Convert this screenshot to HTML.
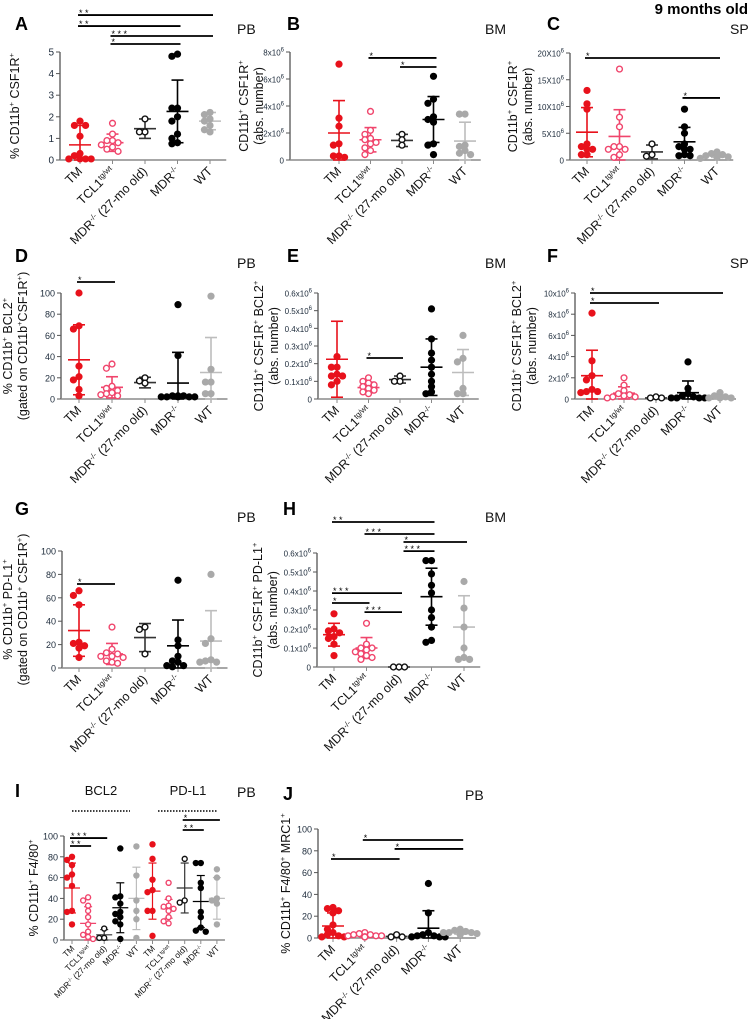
<!DOCTYPE html>
<html><head><meta charset="utf-8"><style>
html,body{margin:0;padding:0;background:#fff}
svg{display:block;font-family:"Liberation Sans",sans-serif}
</style></head><body>
<svg id="fig" width="749" height="1019" viewBox="0 0 749 1019" xmlns="http://www.w3.org/2000/svg"></svg>
<script>
// ---------- data ----------
const groupNames = ['TM','TCL1','MDR27','MDR','WT'];
const A_vals=[[1.8,1.6,1.6,1.1,0.3,0.2,0.05,0.05,0.05,0.05],[1.7,1.2,0.9,0.9,0.8,0.7,0.6,0.5,0.4],[1.9,1.3,1.3],[4.9,4.8,2.4,2.4,2.0,1.8,1.2,1.0,0.8,0.75],[2.2,2.1,1.9,1.8,1.6,1.4,1.3]];
const A_mean=[0.7,0.8,1.45,2.25,1.8];
const A_sd=[0.9,0.4,0.45,1.45,0.4];
const A_ticks=[0,1,2,3,4,5];
const A_sig=[[0,4,6.71,'* *'],[0,3,6.2,'* *'],[1,4,5.74,'* * *'],[1,3,5.37,'*']];
const B_vals=[[7.1,3.1,2.5,1.2,1.1,0.3,0.3,0.2],[3.6,2.2,1.9,1.6,1.5,1.3,1.2,0.9,0.7,0.4],[1.9,1.5,1.1],[6.2,4.5,4.2,3.2,3.0,2.8,1.2,1.1,0.4],[3.4,3.4,1.1,1.0,0.7,0.5,0.4]];
const B_mean=[2.0,1.5,1.45,3.0,1.4];
const B_sd=[2.4,0.9,0.45,1.7,1.4];
const B_ticks=[0,2,4,6,8];
const B_sig=[[1,3,7.56,'*'],[2,3,6.89,'*']];
const C_vals=[[13,10.5,9.5,3,2.5,2,2,1,1],[17,8,6.2,2.5,2.5,2,2,1,0.5],[3,1,0.7],[9.5,6.2,5,3,2.5,2,2,1,0.8,0.8],[1.5,1.2,1,0.8,0.6,0.5,0.3]];
const C_mean=[5.2,4.4,1.5,3.4,0.9];
const C_sd=[4.6,5.0,1.3,2.7,0.4];
const C_ticks=[0,5,10,15,20];
const C_sig=[[0,4,19.07,'*'],[3,4,11.6,'*']];
const D_vals=[[100,69,66,31,21,18,9,3],[33,29,12,10,8,6,5,4,3],[20,17,15],[89,41,3,3,3,2,2,2,2,2],[97,28,16,16,5,5]];
const D_mean=[37,11,15.5,15,25];
const D_sd=[33,10,5,29,33];
const D_ticks=[0,20,40,60,80,100];
const D_sig=[[0,1,110.4,'*']];
const E_vals=[[0.24,0.18,0.18,0.14,0.13,0.13,0.1,0.08],[0.12,0.1,0.09,0.08,0.07,0.06,0.05,0.04,0.03],[0.13,0.1,0.1],[0.51,0.34,0.26,0.22,0.18,0.14,0.1,0.07,0.04,0.03],[0.36,0.23,0.21,0.06,0.03,0.03]];
const E_mean=[0.225,0.065,0.11,0.18,0.15];
const E_sd=[0.215,0.03,0.02,0.16,0.13];
const E_ticks=[0,0.1,0.2,0.3,0.4,0.5,0.6];
const E_sig=[[1,2,0.232,'*']];
const F_vals=[[8.1,3.6,2.2,1.8,0.9,0.7,0.7,0.6],[2.0,1.3,0.8,0.5,0.4,0.3,0.2,0.2,0.1],[0.2,0.1,0.1],[3.5,1.0,0.5,0.3,0.2,0.1,0.1,0.1,0.1],[0.6,0.3,0.2,0.1,0.1,0.1]];
const F_mean=[2.2,0.55,0.1,0.6,0.2];
const F_sd=[2.4,0.6,0.05,1.1,0.15];
const F_ticks=[0,2,4,6,8,10];
const F_sig=[[0,4,10.0,'*'],[0,2,9.06,'*']];
const G_vals=[[66,62,54,22,21,19,17,9],[35,16,13,12,10,10,9,6,5,4],[35,33,12],[75,24,19,10,6,5,2,2,1],[80,25,21,7,6,5,5]];
const G_mean=[32,12,26,19,23];
const G_sd=[22,9,12,22,26];
const G_ticks=[0,20,40,60,80,100];
const G_sig=[[0,1,71.8,'*']];
const H_vals=[[0.28,0.2,0.19,0.18,0.16,0.15,0.12,0.06],[0.23,0.12,0.1,0.1,0.09,0.08,0.07,0.06,0.05,0.04],[0,0,0],[0.56,0.56,0.49,0.43,0.39,0.3,0.26,0.21,0.14,0.13],[0.45,0.31,0.21,0.1,0.05,0.04,0.04]];
const H_mean=[0.17,0.10,0,0.37,0.21];
const H_sd=[0.06,0.055,0,0.15,0.165];
const H_ticks=[0,0.1,0.2,0.3,0.4,0.5,0.6];
const H_sig=[[0,3,0.763,'* *'],[1,3,0.70,'* * *'],[2.2,4,0.658,'*'],[2.2,3,0.61,'* * *'],[0,2,0.389,'* * *'],[0,1,0.337,'*'],[1,2,0.289,'* * *']];
const I_vals=[[80,77,72,63,60,52,28,27,15],[41,38,33,28,22,15,8,5,3,1],[11,2,2],[88,42,41,35,27,25,22,18,15,1],[90,62,38,28,20,2],[92,78,58,48,46,28,28,4],[55,40,33,32,30,28,22,18,16],[78,38,36],[74,74,55,50,27,22,12,9,8],[68,60,40,38,35,15]];
const I_mean=[50,16,5,31,40,47,30,50,37,40];
const I_sd=[24,16,5,24,30,27,9,24,25,20];
const I_ticks=[0,20,40,60,80,100];
const I_sig=[[0,2,98,'* * *'],[0,1,90.4,'* *'],[7,9,115.4,'*'],[7,8,105.8,'* *']];
const J_vals=[[28,27,25,23,12,8,5,3,2,1,1],[5,4,3,3,2,2,2,1,1,1],[3,1,1],[50,23,5,3,2,2,1,1,1],[8,7,6,5,5,5,4,3]];
const J_mean=[11,2.5,1.5,9,5];
const J_sd=[12,1.5,1,16,1.5];
const J_ticks=[0,20,40,60,80,100];
const J_sig=[[1,4,89.9,'*'],[2,4,81.7,'*'],[0,2,72.5,'*']];

// ---------- drawing ----------
const NS='http://www.w3.org/2000/svg';
const svg=document.getElementById('fig');
const RED='#e8111b',PINK='#f0456c',GRAY='#a9a9a9';
const gStyle=[{c:RED,fill:true,e:RED},{c:PINK,fill:false,e:PINK},{c:'#111',fill:false,e:'#333'},{c:'#000',fill:true,e:'#000'},{c:GRAY,fill:true,e:'#bdbdbd'}];
function el(tag,attrs,parent){const e=document.createElementNS(NS,tag);for(const k in attrs)e.setAttribute(k,attrs[k]);(parent||svg).appendChild(e);return e;}
function txt(x,y,s,opts,parent){const t=el('text',Object.assign({x:x,y:y,'font-size':12,fill:'#111'},opts||{}),parent);t.textContent=s;return t;}
// parts: [text] normal, [text,1] superscript
function rich(t,parts,fs,supShift){
  let inSup=false;
  parts.forEach(p=>{
    const sup=!!p[1];
    const a={};
    if(sup&&!inSup)a.dy=-supShift;
    if(!sup&&inSup)a.dy=supShift;
    if(sup)a['font-size']=fs*0.62;
    const sp=el('tspan',a,t);sp.textContent=p[0];
    inSup=sup;
  });
}

function drawPanel(c){
  const g=el('g',{});
  
  
  const yS=v=>c.y0-(v/c.max)*(c.y0-c.ytop);
  const gx=i=>c.g0+i*c.step;
  const n=c.vals.length;
  const ya=el('line',{x1:c.ax,y1:c.y0,x2:c.ax,y2:c.ytop,stroke:'#555','stroke-width':1.3},g);
  
  
  const xa=el('line',{x1:c.ax,y1:c.y0,x2:gx(n-1)+c.step*0.5,y2:c.y0,stroke:'#8a8a8a','stroke-width':1.6},g);
  
  
  c.ticks.forEach(t=>{
    const y=yS(t);
    el('line',{x1:c.ax-4,y1:y,x2:c.ax,y2:y,stroke:'#555','stroke-width':1},g);
    const lab=txt(c.ax-6,y+3.5,'',{'font-size':c.tfs||10,'text-anchor':'end',fill:'#1c2a3a'},g);
    
    
    if(c.sci && t!==0){
      lab.textContent=(c.decimals?t.toFixed(1):t)+c.sci;
      const s=el('tspan',{dy:-4,'font-size':6},lab);s.textContent='6';
    } else lab.textContent=t;
  });
  for(let i=0;i<n;i++){
    const st=gStyle[i%5];
    const x=gx(i);
    el('line',{x1:x,y1:c.y0,x2:x,y2:c.y0+4,stroke:'#8a8a8a','stroke-width':1},g);
    const m=c.mean[i],s=c.sd[i];
    const eb=el('g',{},g);
    
    
    const lo=Math.max(0,m-s),hi=m+s;
    const ew=c.small?1.2:1.6;
    el('line',{x1:x,y1:yS(lo),x2:x,y2:yS(hi),stroke:st.e,'stroke-width':ew},eb);
    el('line',{x1:x-(c.capw||6),y1:yS(hi),x2:x+(c.capw||6),y2:yS(hi),stroke:st.e,'stroke-width':ew},eb);
    el('line',{x1:x-(c.capw||6),y1:yS(lo),x2:x+(c.capw||6),y2:yS(lo),stroke:st.e,'stroke-width':ew},eb);
    el('line',{x1:x-(c.meanw||11),y1:yS(m),x2:x+(c.meanw||11),y2:yS(m),stroke:st.e,'stroke-width':ew},eb);
    const placed=[];
    const r=c.r||3.6, d=r*1.55;
    const offs=[0,-d,d,-2*d,2*d,-3*d,3*d];
    c.vals[i].forEach(v=>{
      const py=yS(v);
      let ox=0;
      for(const o of offs){ if(placed.every(p=>Math.hypot(p[0]-o,p[1]-py)>=d*0.9)){ox=o;break;} }
      placed.push([ox,py]);
      const pt=el('circle',{cx:x+ox,cy:py,r:st.fill?r:r-0.7,fill:st.fill?st.c:'#fff',stroke:st.c,'stroke-width':st.fill?0:1.4},g);
      
      
    });
  }
  c.sig.forEach(sg=>{
    const x1=gx(sg[0])-2,x2=gx(sg[1])+3,y=yS(sg[2]);
    const b=el('line',{x1:x1,y1:y,x2:x2,y2:y,stroke:'#000','stroke-width':1.8},g);
    
    
    txt(x1+1,y+1,sg[3],{'font-size':9,fill:'#000'},g);
  });
  const xfs=c.xfs||12.5;
  c.xl.forEach((lab,i)=>{
    const x=gx(i)+3,y=c.y0+(c.small?9:12);
    const t=el('text',{x:x,y:y,'font-size':xfs,'text-anchor':'end',fill:'#111',transform:'rotate(-45 '+x+' '+y+')'},g);
    
    
    rich(t,lab,xfs,xfs*0.35);
  });
  const cy=(c.y0+c.ytop)/2;
  const yfs=c.yfs||12.5;
  c.ylab.forEach((line,k)=>{
    const x=c.ylx+k*15;
    const t=el('text',{x:x,y:cy,'font-size':yfs,'text-anchor':'middle',fill:'#111',transform:'rotate(-90 '+x+' '+cy+')'},g);
    
    
    rich(t,line,yfs,5);
  });
}
const XL=[[['TM']],[['TCL1'],['tg/wt',1]],[['MDR'],['-/-',1],[' (27-mo old)']],[['MDR'],['-/-',1]],[['WT']]];
const L_CSF=[['CD11b'],['+',1],[' CSF1R'],['+',1]];
const L_ABS=[['(abs. number)']];
const panels=[
 {id:'A',vals:A_vals,mean:A_mean,sd:A_sd,ticks:A_ticks,sig:A_sig,max:5,ax:60,y0:160,ytop:52,g0:80,step:32.5,ylx:19,ylab:[[['% CD11b'],['+',1],[' CSF1R'],['+',1]]]},
 {id:'B',vals:B_vals,mean:B_mean,sd:B_sd,ticks:B_ticks,sig:B_sig,max:8,ax:290,y0:160,ytop:52,g0:339,step:31.5,sci:'x10',tfs:8,ylx:248,ylab:[L_CSF,L_ABS]},
 {id:'C',vals:C_vals,mean:C_mean,sd:C_sd,ticks:C_ticks,sig:C_sig,max:20,ax:570,y0:160,ytop:53,g0:587,step:32.5,sci:'X10',tfs:8,ylx:517,ylab:[L_CSF,L_ABS]},
 {id:'D',vals:D_vals,mean:D_mean,sd:D_sd,ticks:D_ticks,sig:D_sig,max:100,ax:61,y0:399,ytop:293,g0:79,step:33,tfs:9,ylx:12,ylab:[[['% CD11b'],['+',1],[' BCL2'],['+',1]],[['(gated on CD11b'],['+',1],['CSF1R'],['+',1],[')']]]},
 {id:'E',vals:E_vals,mean:E_mean,sd:E_sd,ticks:E_ticks,sig:E_sig,max:0.6,ax:318,y0:399,ytop:293,g0:337,step:31.5,sci:'x10',decimals:true,tfs:8,ylx:263,ylab:[[['CD11b'],['+',1],[' CSF1R'],['+',1],[' BCL2'],['+',1]],L_ABS]},
 {id:'F',vals:F_vals,mean:F_mean,sd:F_sd,ticks:F_ticks,sig:F_sig,max:10,ax:575,y0:399,ytop:293,g0:592,step:32,sci:'x10',tfs:8,ylx:521,ylab:[[['CD11b'],['+',1],[' CSF1R'],['+',1],[' BCL2'],['+',1]],L_ABS]},
 {id:'G',vals:G_vals,mean:G_mean,sd:G_sd,ticks:G_ticks,sig:G_sig,max:100,ax:62,y0:668,ytop:551,g0:79,step:33,tfs:9,ylx:12,ylab:[[['% CD11b'],['+',1],[' PD-L1'],['+',1]],[['(gated on CD11b'],['+',1],[' CSF1R'],['+',1],[')']]]},
 {id:'H',vals:H_vals,mean:H_mean,sd:H_sd,ticks:H_ticks,sig:H_sig,max:0.6,ax:317,y0:667,ytop:553,g0:334,step:32.5,sci:'x10',decimals:true,tfs:8,ylx:262,ylab:[[['CD11b'],['+',1],[' CSF1R'],['+',1],[' PD-L1'],['+',1]],L_ABS]},
 {id:'I',vals:I_vals,mean:I_mean,sd:I_sd,ticks:I_ticks,sig:I_sig,max:100,ax:64,y0:940,ytop:836,g0:72,step:16.1,small:true,r:3.2,capw:4,meanw:8,xfs:8.5,tfs:9,ylx:38,ylab:[[['% CD11b'],['+',1],[' F4/80'],['+',1]]]},
 {id:'J',vals:J_vals,mean:J_mean,sd:J_sd,ticks:J_ticks,sig:J_sig,max:100,ax:318,y0:938,ytop:829,g0:333,step:31.8,tfs:9,ylx:290,ylab:[[['% CD11b'],['+',1],[' F4/80'],['+',1],[' MRC1'],['+',1]]]}
];
panels.forEach(p=>{p.xl=p.id==='I'?XL.concat(XL):XL;drawPanel(p);});

const letters=[['A',15,30],['B',287,30],['C',547,30],['D',15,262],['E',287,262],['F',547,262],['G',15,515],['H',283,515],['I',15,797],['J',283,800]];
letters.forEach(l=>{const t=txt(l[1],l[2],l[0],{'font-size':18,'font-weight':'bold',fill:'#000'});});
const regions=[['PB',237,34],['BM',485,34],['SP',730,34],['PB',237,268],['BM',485,268],['SP',730,268],['PB',237,522],['BM',485,522],['PB',237,797],['PB',465,800]];
regions.forEach(r=>{const t=txt(r[1],r[2],r[0],{'font-size':14,fill:'#111'});});
const title=txt(748,14,'9 months old',{'font-size':15,'font-weight':'bold','text-anchor':'end',fill:'#000'});


[['BCL2',101,72,130],['PD-L1',188,158,218]].forEach(h=>{
  const t=txt(h[1],795,h[0],{'font-size':13,'text-anchor':'middle'});
  
  
  const dl=el('line',{x1:h[2],y1:811,x2:h[3],y2:811,stroke:'#000','stroke-width':1.5,'stroke-dasharray':'1.5,1.5'});
  
  
});
</script>
</body></html>
